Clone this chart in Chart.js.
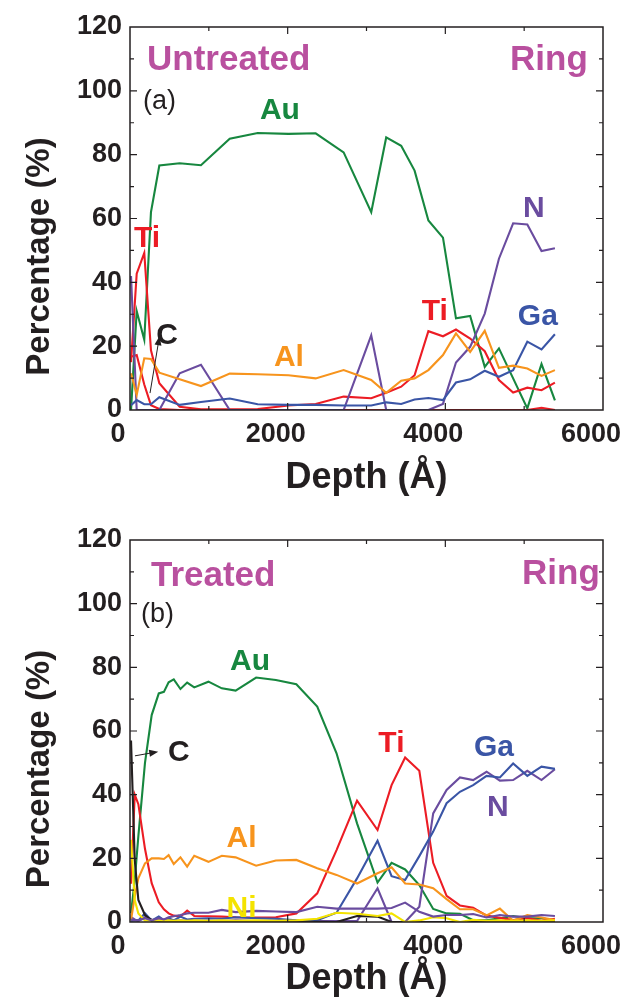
<!DOCTYPE html>
<html>
<head>
<meta charset="utf-8">
<script src="https://cdn.jsdelivr.net/npm/chart.js@4.4.0/dist/chart.umd.min.js"></script>
<style>
  html, body { margin: 0; padding: 0; background: #fff; }
  canvas { display: block; }
</style>
</head>
<body>
<canvas id="chartA" width="636" height="500"></canvas>
<canvas id="chartB" width="636" height="503"></canvas>
<script>
// colours
const GREEN = "#17873f";
const RED = "#ec1c24";
const ORANGE = "#f7941d";
const BLUE = "#3a55a6";
const PURPLE = "#6a4c9f";
const BLACK = "#231f20";
const YELLOW = "#f4e300";
const MAGENTA = "#b9509f";

// ---- panel (a) untreated ----
const depthA = [13, 85, 181, 266, 372, 630, 900, 1265, 1620, 2010, 2355, 2710, 3060, 3250, 3440, 3610, 3785, 3970, 4135, 4315, 4500, 4680, 4860, 5040, 5220, 5390];
const auA  = [0, 31, 22, 62, 76.6, 77.3, 76.7, 85, 86.8, 86.5, 86.7, 80.7, 62, 85.4, 82.8, 75, 59.4, 54, 28.7, 29.5, 13.5, 19.3, 9.9, 0.5, 14.4, 3];
const tiA  = [15, 42.7, 49.2, 18.7, 8.4, 1, 0.2, 0.2, 0.3, 1.4, 1.9, 4.2, 3.7, 5.4, 7.3, 10.9, 24.7, 23.1, 25.2, 22.4, 18.4, 9.4, 5.5, 7, 6.2, 8.6];
const red2A = [16.7, 17.2, 8, 1.5, 0.3, 0, 0, 0, 0, 0, 0, 0, 0, 0, 0, 0, 0, 0, 0, 0, 0, 0, 0, 0, 0.7, 0];
const alA  = [11.5, 4.7, 16.2, 16, 11.7, 9.6, 7.5, 11.4, 11.2, 10.9, 9.9, 12.5, 9.4, 5.4, 9.2, 9.9, 12.5, 17.2, 24, 18.2, 24.8, 13.2, 13.9, 13, 10.7, 12.5];
const gaA  = [1.5, 3.1, 1.8, 1.8, 4, 1.6, 2.5, 3.6, 1.8, 1.6, 1.6, 1.4, 1.4, 2.4, 1.9, 3.3, 3.75, 3.1, 8.6, 9.6, 12.3, 10.4, 12.5, 21.4, 19, 23.75];
const nA   = [42, 0, 0, 0, 0, 11.5, 14.2, 0, 0, 0, 0, 0, 23.4, 0, 0, 0, 0, 1.9, 14.9, 19.8, 30.2, 47.4, 58.5, 58.1, 49.8, 50.7];

// ---- panel (b) treated ----
const depthB = [13, 60, 106, 190, 275, 365, 430, 490, 555, 640, 725, 815, 995, 1165, 1340, 1600, 1850, 2110, 2375, 2620, 2880, 3140, 3318, 3490, 3670, 3846, 4016, 4185, 4353, 4523, 4692, 4860, 5040, 5220, 5390];
const auB  = [2.8, 13, 27, 50, 65, 71.8, 72.3, 75.3, 76.2, 73.2, 75.2, 73.7, 75.5, 73.4, 72.7, 76.8, 76, 74.7, 67.7, 53, 31, 12.4, 18.6, 16.5, 11.6, 4.1, 2.7, 2.6, 0.6, 0.5, 1.2, 1.9, 1.2, 1.2, 0.5];
const tiB  = [12, 40, 37, 23, 12.2, 6.2, 4, 2.7, 2, 1.7, 3.6, 1.9, 1.8, 1.7, 1.5, 1.4, 1.5, 2.7, 9, 22.6, 38.1, 28.9, 43, 51.7, 47.5, 18.6, 8.2, 5.2, 4.5, 2, 1.3, 0.6, 1.2, 0.4, 1];
const alB  = [0.6, 8, 13.7, 18.4, 20, 20, 19.8, 21, 18.2, 20.3, 17.4, 20.8, 18.9, 20.8, 20.3, 17.7, 19.3, 19.5, 16.9, 14.8, 12.1, 15.3, 17.2, 12.1, 11.8, 10.6, 7.2, 4, 4, 2.1, 4.2, 0.4, 2.2, 1.4, 0.6];
const gaB  = [0.3, 0.5, 0.5, 2.7, 0.4, 1.7, 0.6, 1.2, 0.5, 1.7, 0.8, 1, 1.2, 1, 1.5, 1.2, 1, 0.5, 0.6, 2.9, 13.7, 25.5, 14.4, 13.2, 20.7, 28.4, 37.3, 40.9, 43, 45.9, 45.4, 49.8, 45.9, 48.8, 48.1];
const nB   = [1.5, 0.8, 0.3, 1.5, 0.8, 0.5, 0.3, 0.6, 0.3, 0.5, 0.4, 0.3, 0.4, 0.3, 0.5, 0.3, 0.4, 0.3, 0.3, 0.3, 0.3, 10.6, 0, 0, 4.8, 34.1, 41.5, 45.4, 44.6, 47.2, 44.4, 44.6, 47.5, 44.6, 48];
const n2B  = [0.8, 0.5, 0.5, 1.2, 0.5, 1.2, 0.8, 1.5, 1.8, 2.2, 2.7, 2.9, 2.9, 3.8, 3.1, 3.5, 3.3, 3.1, 4.8, 4.2, 4.2, 4.2, 4.4, 6.1, 3.2, 1.7, 2.2, 2.2, 2.5, 1.4, 2.2, 1.7, 1.7, 2.2, 1.9];
const cB   = [57, 19.5, 6.9, 2.2, 0.5, 0.3, 0.2, 0.2, 0.2, 0.1, 0.1, 0.1, 0.1, 0.1, 0.1, 0.1, 0.1, 0.1, 0.1, 0, 1.9, 1.7, 0, 0, 0, 0, 0, 0, 0, 0, 0, 0, 0, 0, 0];
const niB  = [25.8, 6.9, 2.7, 0.4, 0.6, 0.5, 0.4, 0.5, 0.4, 0.5, 0.4, 0.5, 0.4, 0.5, 0.4, 0.5, 0.4, 0.5, 1, 2.9, 2.6, 1.9, 2.7, 0, 0.5, 1.5, 1.2, 0, 0.7, 0.4, 0.5, 0.4, 0.5, 0.4, 0.5];

// axis ticks
const xTicks = [0, 2000, 4000, 6000];
const yTicks = [0, 20, 40, 60, 80, 100, 120];

// text labels placed in data coordinates
const labelsA = [
  { text: "Untreated", x: 216, y: 110.6, color: MAGENTA, size: 35, align: "left" },
  { text: "Ring", x: 5807, y: 110.6, color: MAGENTA, size: 35, align: "right" },
  { text: "(a)", x: 165, y: 97.2, color: BLACK, size: 27, weight: "normal", align: "left" },
  { text: "Au", x: 1902, y: 94.7, color: GREEN },
  { text: "Ti", x: 216, y: 54.4, color: RED },
  { text: "C", x: 469, y: 24, color: BLACK },
  { text: "Al", x: 2016, y: 17.2, color: ORANGE },
  { text: "Ti", x: 3867, y: 31.6, color: RED },
  { text: "Ga", x: 5173, y: 30, color: BLUE },
  { text: "N", x: 5122, y: 64, color: PURPLE }
];
const labelsB = [
  { text: "Treated", x: 266, y: 109.6, color: MAGENTA, size: 35, align: "left" },
  { text: "Ring", x: 5960, y: 110, color: MAGENTA, size: 35, align: "right" },
  { text: "(b)", x: 140, y: 97.4, color: BLACK, size: 27, weight: "normal", align: "left" },
  { text: "Au", x: 1522, y: 82.6, color: GREEN },
  { text: "C", x: 621, y: 54, color: BLACK },
  { text: "Ti", x: 3316, y: 56.9, color: RED },
  { text: "Ga", x: 4616, y: 55.6, color: BLUE },
  { text: "N", x: 4666, y: 36.8, color: PURPLE },
  { text: "Al", x: 1414, y: 27, color: ORANGE },
  { text: "Ni", x: 1414, y: 5, color: YELLOW }
];
// arrows: from (x1,y1) to (x2,y2), head at the second end
const arrowsA = [{ x1: 254, y1: 5.3, x2: 374, y2: 23.1 }];
const arrowsB = [{ x1: 63, y1: 52.2, x2: 358, y2: 53.5 }];

const FONT = "'Liberation Sans', Arial, Helvetica, sans-serif";

function makeSet(label, depths, values, color) {
  return {
    label: label,
    data: depths.map(function (d, i) { return { x: d, y: values[i] }; }),
    borderColor: color,
    backgroundColor: color,
    borderWidth: 2.1,
    pointRadius: 0,
    showLine: true,
    tension: 0
  };
}

const decorPlugin = {
  id: "decor",
  afterDatasetsDraw: function (chart, args, opts) {
    const ctx = chart.ctx;
    const a = chart.chartArea;
    const xs = chart.scales.x;
    const ys = chart.scales.y;
    ctx.save();
    ctx.strokeStyle = BLACK;
    ctx.lineWidth = 1.5;
    ctx.strokeRect(a.left, a.top, a.right - a.left, a.bottom - a.top);

    // inward ticks on all four sides
    ctx.lineWidth = 1.2;
    ctx.beginPath();
    for (let v = 1000; v < 6000; v += 1000) {
      const px = xs.getPixelForValue(v);
      const len = v % 2000 === 0 ? 7 : 4;
      ctx.moveTo(px, a.bottom); ctx.lineTo(px, a.bottom - len);
      ctx.moveTo(px, a.top); ctx.lineTo(px, a.top + len);
    }
    for (let v = 10; v < 120; v += 10) {
      const py = ys.getPixelForValue(v);
      const len = v % 20 === 0 ? 7 : 4;
      ctx.moveTo(a.left, py); ctx.lineTo(a.left + len, py);
      ctx.moveTo(a.right, py); ctx.lineTo(a.right - len, py);
    }
    ctx.stroke();

    // y title
    ctx.save();
    ctx.translate(40, (a.top + a.bottom) / 2 + opts.titleShift);
    ctx.rotate(-Math.PI / 2);
    ctx.font = "bold 33px " + FONT;
    ctx.fillStyle = BLACK;
    ctx.textAlign = "center";
    ctx.textBaseline = "middle";
    ctx.fillText("Percentage (%)", 0, 0);
    ctx.restore();

    // text labels
    opts.labels.forEach(function (l) {
      const size = l.size || 30;
      ctx.font = (l.weight || "bold") + " " + size + "px " + FONT;
      ctx.fillStyle = l.color;
      ctx.textAlign = l.align || "center";
      ctx.textBaseline = "alphabetic";
      ctx.fillText(l.text, xs.getPixelForValue(l.x), ys.getPixelForValue(l.y) + size * 0.36);
    });

    // arrows
    ctx.strokeStyle = BLACK;
    ctx.fillStyle = BLACK;
    ctx.lineWidth = 1;
    opts.arrows.forEach(function (r) {
      const x1 = xs.getPixelForValue(r.x1), y1 = ys.getPixelForValue(r.y1);
      const x2 = xs.getPixelForValue(r.x2), y2 = ys.getPixelForValue(r.y2);
      const ang = Math.atan2(y2 - y1, x2 - x1);
      ctx.beginPath();
      ctx.moveTo(x1, y1);
      ctx.lineTo(x2 - 6 * Math.cos(ang), y2 - 6 * Math.sin(ang));
      ctx.stroke();
      ctx.beginPath();
      ctx.moveTo(x2, y2);
      ctx.lineTo(x2 - 9 * Math.cos(ang) + 3.5 * Math.sin(ang), y2 - 9 * Math.sin(ang) - 3.5 * Math.cos(ang));
      ctx.lineTo(x2 - 9 * Math.cos(ang) - 3.5 * Math.sin(ang), y2 - 9 * Math.sin(ang) + 3.5 * Math.cos(ang));
      ctx.closePath();
      ctx.fill();
    });
    ctx.restore();
  }
};

function plainLabel(value) {
  return String(value);
}

function makeChart(id, datasets, padTop, xHeight, titlePad, labels, arrows) {
  return new Chart(document.getElementById(id), {
    type: "scatter",
    data: { datasets: datasets },
    plugins: [decorPlugin],
    options: {
      responsive: false,
      animation: false,
      events: [],
      layout: { padding: { top: padTop, right: 33, left: 0, bottom: 0 } },
      plugins: {
        legend: { display: false },
        tooltip: { enabled: false },
        decor: { labels: labels, arrows: arrows, titleShift: 38 }
      },
      scales: {
        x: {
          type: "linear",
          min: 0,
          max: 6000,
          afterBuildTicks: function (s) { s.ticks = xTicks.map(function (v) { return { value: v }; }); },
          afterFit: function (s) { s.height = xHeight; s.paddingLeft = 0; s.paddingRight = 0; },
          grid: { display: false, drawTicks: false },
          border: { display: false },
          ticks: {
            color: BLACK,
            font: { family: FONT, size: 27, weight: "bold" },
            padding: 8,
            labelOffset: -12,
            maxRotation: 0,
            callback: plainLabel
          },
          title: {
            display: true,
            text: "Depth (\u00c5)",
            color: BLACK,
            font: { family: FONT, size: 36, weight: "bold" },
            padding: { top: 0, bottom: titlePad }
          }
        },
        y: {
          type: "linear",
          min: 0,
          max: 120,
          afterBuildTicks: function (s) { s.ticks = yTicks.map(function (v) { return { value: v }; }); },
          afterFit: function (s) { s.width = 130; s.paddingTop = 0; s.paddingBottom = 0; },
          grid: { display: false, drawTicks: false },
          border: { display: false },
          ticks: {
            color: BLACK,
            font: { family: FONT, size: 27, weight: "bold" },
            padding: 8,
            callback: plainLabel
          }
        }
      }
    }
  });
}

makeChart("chartA", [
  makeSet("Al", depthA, alA, ORANGE),
  makeSet("Ga", depthA, gaA, BLUE),
  makeSet("N", depthA, nA, PURPLE),
  makeSet("Ti'", depthA, red2A, RED),
  makeSet("Ti", depthA, tiA, RED),
  makeSet("Au", depthA, auA, GREEN)
], 27, 90, 0, labelsA, arrowsA);

makeChart("chartB", [
  makeSet("N'", depthB, n2B, PURPLE),
  makeSet("Ni", depthB, niB, YELLOW),
  makeSet("C", depthB, cB, BLACK),
  makeSet("Al", depthB, alB, ORANGE),
  makeSet("Ga", depthB, gaB, BLUE),
  makeSet("N", depthB, nB, PURPLE),
  makeSet("Ti", depthB, tiB, RED),
  makeSet("Au", depthB, auB, GREEN)
], 40, 81, 2, labelsB, arrowsB);
</script>
</body>
</html>
